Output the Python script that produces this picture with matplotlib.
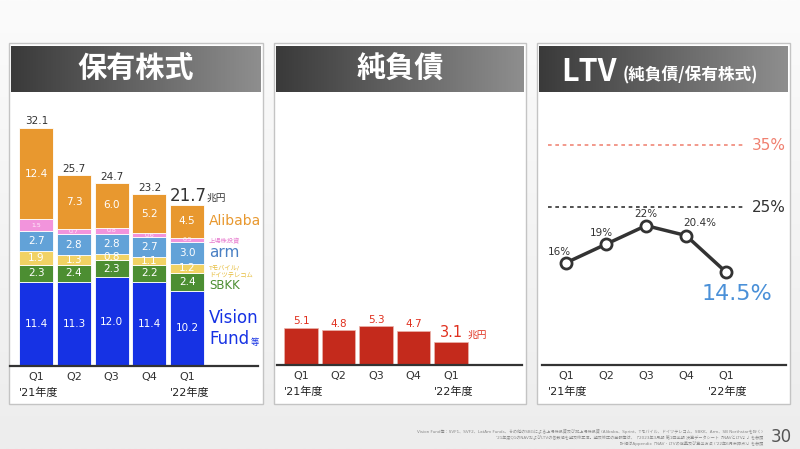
import matplotlib
matplotlib.use("Agg")
import matplotlib.pyplot as plt
import numpy as np
from matplotlib.patches import Rectangle
from matplotlib.colors import LinearSegmentedColormap

plt.rcParams['font.family'] = ['DejaVu Sans', 'Noto Sans CJK JP']

# データ (兆円 / %)
quarters = ["Q1", "Q2", "Q3", "Q4", "Q1"]
vision_fund = [11.4, 11.3, 12.0, 11.4, 10.2]
sbkk = [2.3, 2.4, 2.3, 2.2, 2.4]
tmobile_dt = [1.9, 1.3, 0.8, 1.1, 1.2]
arm = [2.7, 2.8, 2.8, 2.7, 3.0]
listed = [1.5, 0.7, 0.8, 0.6, 0.5]
alibaba = [12.4, 7.3, 6.0, 5.2, 4.5]
equity_total = [32.1, 25.7, 24.7, 23.2, 21.7]
net_debt = [5.1, 4.8, 5.3, 4.7, 3.1]
ltv = [16, 19, 22, 20.4, 14.5]
ltv_labels = ["16%", "19%", "22%", "20.4%", "14.5%"]
ltv_lines = [35, 25]

W, H = 800, 449
fig = plt.figure(figsize=(8, 4.49), dpi=100)

def px(x0, y0, x1, y1):
    return [x0 / W, 1 - y1 / H, (x1 - x0) / W, (y1 - y0) / H]

# 背景・パネル
bg = fig.add_axes([0, 0, 1, 1])
bg.set_axis_off()
grad = np.linspace(0, 1, 200).reshape(-1, 1)
bg.imshow(grad, extent=[0, W, H, 0], aspect='auto', zorder=0,
          cmap=LinearSegmentedColormap.from_list('bg', ['#fbfbfb', '#ededed']))
hcm = LinearSegmentedColormap.from_list('hd', ['#3a3a3a', '#8e8e8e'])
hgrad = np.linspace(0, 1, 200).reshape(1, -1)
panels = [(9, 263), (274, 526), (537, 790)]
for x0, x1 in panels:
    bg.add_patch(Rectangle((x0, 43), x1 - x0, 404 - 43, fc='white', ec='#c4c4c4', lw=1, zorder=1))
    bg.imshow(hgrad, extent=[x0 + 2, x1 - 2, 92, 46], aspect='auto', cmap=hcm, zorder=2)
bg.set_xlim(0, W)
bg.set_ylim(H, 0)

hfont = dict(family='Noto Sans CJK JP', weight='bold', color='white', zorder=3)
bg.text(136, 69, "保有株式", ha='center', va='center', fontsize=21, **hfont)
bg.text(400, 69, "純負債", ha='center', va='center', fontsize=21, **hfont)
bg.text(561, 81, "LTV", ha='left', va='baseline', fontsize=22, **hfont)
bg.text(623, 80, "(純負債/保有株式)", ha='left', va='baseline', fontsize=12, **hfont)

foot = ["Vision Fund等：SVF1、SVF2、LatAm Funds、その他のSBGによる上場株投資及び非上場株投資 (Alibaba、Sprint、Tモバイル、ドイツテレコム、SBKK、Arm、SB Northstarを除く)",
        "'21年度Q1のNAVおよびLTVの各数値を遡及修正済。遡及修正の金額等は、「2023年3月期 第1四半期 決算データシート『NAVとLTV』」を参照",
        "詳細はAppendix「NAV・LTVの定義及び算出方法 ('22年6月末時点)」を参照"]
for i, t in enumerate(foot):
    bg.text(763, 431 + i * 6, t, ha='right', va='center', fontsize=2.95, color='#888888', zorder=3)
bg.text(771, 437, "30", ha='left', va='center', fontsize=12, color='#555555', zorder=3)

x = np.arange(len(quarters))

def style(ax):
    ax.patch.set_alpha(0)
    for s in ['top', 'left', 'right']:
        ax.spines[s].set_visible(False)
    ax.spines['bottom'].set_color('#333333')
    ax.spines['bottom'].set_linewidth(1.6)
    ax.set_yticks([])
    ax.set_xticks(x, quarters)
    ax.tick_params(axis='x', length=0, pad=4, labelsize=8, labelcolor='#333333')
    for xi, lab in [(0, "'21年度"), (4, "'22年度")]:
        ax.annotate(lab, xy=(xi - 0.45, 0), xycoords=('data', 'axes fraction'),
                    xytext=(0, -19.5), textcoords='offset points', ha='left', va='center',
                    fontsize=8, color='#222222')

# 保有株式
ax1 = fig.add_axes(px(10, 100, 258, 366))
ax1.set_xlim(-0.698, 5.88)
ax1.set_ylim(0, 266 / 7.4)
style(ax1)
stack = [(vision_fund, '#1632e4'),
         (sbkk, '#4c8e32'),
         (tmobile_dt, '#f1d264'),
         (arm, '#62a2d8'),
         (listed, '#f294dc'),
         (alibaba, '#e8982f')]
bottom = np.zeros(len(x))
centers = []
for vals, col in stack:
    vals = np.array(vals)
    ax1.bar(x, vals, 0.9, bottom=bottom, color=col, edgecolor='white', linewidth=0.6)
    small = col == '#f294dc'
    for i, v in enumerate(vals):
        ax1.text(i, bottom[i] + v / 2, f"{v:.1f}", ha='center', va='center',
                 fontsize=4.5 if small else 7.5, color='#fff0fb' if small else 'white')
    centers.append(bottom[-1] + vals[-1] / 2)
    bottom = bottom + vals
for i, v in enumerate(equity_total[:-1]):
    ax1.annotate(f"{v}", xy=(i, bottom[i]), xytext=(0, 1), textcoords='offset points',
                 ha='center', va='bottom', fontsize=7.5, color='#333333')
ax1.annotate(f"{equity_total[-1]}", xy=(4, bottom[-1]), xytext=(1, 0), textcoords='offset points',
             ha='center', va='bottom', fontsize=12, color='#333333')
ax1.annotate("兆円", xy=(4, bottom[-1]), xytext=(14, 1), textcoords='offset points',
             ha='left', va='bottom', fontsize=7, color='#333333')

lab_x = 4.58
ax1.annotate("Alibaba", xy=(lab_x, centers[5]), xytext=(0, 0), textcoords='offset points',
             ha='left', va='center', fontsize=10, color='#e8982f')
ax1.annotate("上場株投資", xy=(lab_x, centers[4]), xytext=(0, -1), textcoords='offset points',
             ha='left', va='center', fontsize=4.5, color='#e880d0')
ax1.annotate("arm", xy=(lab_x, centers[3]), xytext=(0, 0), textcoords='offset points',
             ha='left', va='center', fontsize=11, color='#4a80c4')
ax1.annotate("Tモバイル/\nドイツテレコム", xy=(lab_x, centers[2]), xytext=(0, -2), textcoords='offset points',
             ha='left', va='center', fontsize=4.5, color='#e6bc3a', linespacing=1.1)
ax1.annotate("SBKK", xy=(lab_x, centers[1]), xytext=(0, -3), textcoords='offset points',
             ha='left', va='center', fontsize=8.5, color='#4c8e32')
ax1.annotate("Vision", xy=(lab_x, centers[0]), xytext=(0, 7.5), textcoords='offset points',
             ha='left', va='center', fontsize=12, color='#1632e4')
ax1.annotate("Fund", xy=(lab_x, centers[0]), xytext=(0, -7.5), textcoords='offset points',
             ha='left', va='center', fontsize=12, color='#1632e4')
ax1.annotate("等", xy=(lab_x, centers[0]), xytext=(30, -10), textcoords='offset points',
             ha='left', va='center', fontsize=6, color='#1632e4')

# 純負債
ax2 = fig.add_axes(px(277, 100, 522, 365))
ax2.set_xlim(-0.64, 5.89)
ax2.set_ylim(0, 265 / 7.3)
style(ax2)
ax2.bar(x, net_debt, 0.9, color='#c42a1c', edgecolor='#eab4ac', linewidth=0.5)
for i, v in enumerate(net_debt[:-1]):
    ax2.annotate(f"{v}", xy=(i, v), xytext=(0, 1), textcoords='offset points',
                 ha='center', va='bottom', fontsize=7.5, color='#e0301e')
ax2.annotate(f"{net_debt[-1]}", xy=(4, net_debt[-1]), xytext=(0, 1.5), textcoords='offset points',
             ha='center', va='bottom', fontsize=10.5, color='#e0301e')
ax2.annotate("兆円", xy=(4, net_debt[-1]), xytext=(12, 2), textcoords='offset points',
             ha='left', va='bottom', fontsize=7, color='#e0301e')

# LTV
ax3 = fig.add_axes(px(542, 100, 786, 365))
ax3.set_xlim(-0.6, 5.5)
ax3.set_ylim((362 - 365) / 6.2, (362 - 100) / 6.2)
style(ax3)
for lv, col in zip(ltv_lines, ['#f08878', '#333333']):
    ax3.hlines(lv, -0.45, 4.43, colors=col, linestyles=(0, (2.2, 2.2)), linewidth=1.2)
    ax3.text(4.65, lv, f"{lv}%", ha='left', va='center', fontsize=11,
             color='#f08070' if col != '#333333' else '#333333')
ax3.plot(x, ltv, color='#333333', lw=2.5, marker='o', ms=8, mfc='white', mec='#333333', mew=2, zorder=3)
offs = [(-5, 8), (-3, 8), (0, 8), (10, 9), (8, -16)]
for i, (v, lab) in enumerate(zip(ltv, ltv_labels)):
    big = i == len(ltv) - 1
    ax3.annotate(lab, xy=(i, v), xytext=offs[i], textcoords='offset points',
                 ha='center', va='center', fontsize=16 if big else 7.5,
                 color='#4a90d8' if big else '#333333')

fig.savefig('out.png', dpi=100)
